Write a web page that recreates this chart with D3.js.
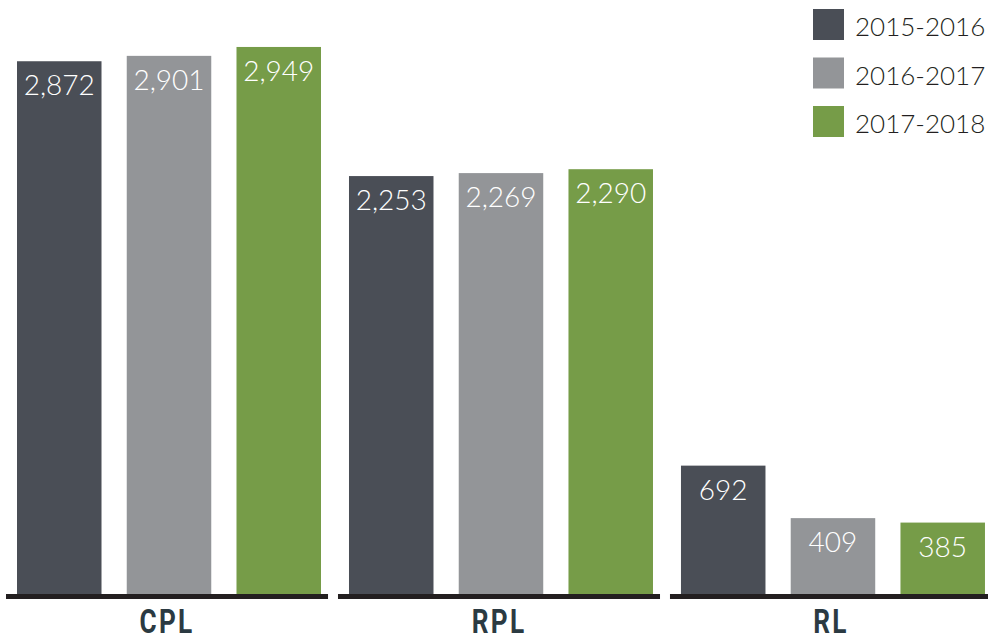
<!DOCTYPE html>
<html>
<head>
<meta charset="utf-8">
<script src="https://cdn.jsdelivr.net/npm/d3@7"></script>
<style>
  body { margin: 0; background: #fff; }
  svg { display: block; }
</style>
</head>
<body>
<div id="chart"></div>
<script>
(function () {
    var width = 988,
        height = 642;

    // data
    var groups = ["CPL", "RPL", "RL"];
    var years = ["2015-2016", "2016-2017", "2017-2018"];
    var cpl = [2872, 2901, 2949];
    var rpl = [2253, 2269, 2290];
    var rl = [692, 409, 385];
    var colors = ["#4a4e56", "#939598", "#769c48"];

    var rows = [cpl, rpl, rl];

    var svg = d3.select("#chart")
        .append("svg")
        .attr("width", width)
        .attr("height", height);

    var baseY = 594;

    var x0 = d3.scaleBand().domain(groups).range([6, 992]).paddingInner(0.03);
    var x1 = d3.scaleBand().domain(years).range([11, 315]).paddingInner(0.23);
    var y = d3.scaleLinear().domain([0, 3000]).range([baseY, baseY - 3000 * 0.1855]);

    var fmt = d3.format(",");

    var g = svg.selectAll(".group")
        .data(groups)
        .enter().append("g")
        .attr("class", "group")
        .attr("transform", function (d) { return "translate(" + x0(d) + ",0)"; });

    // baseline segment under each group
    g.append("rect")
        .attr("x", 0)
        .attr("y", baseY)
        .attr("width", x0.bandwidth())
        .attr("height", 5)
        .attr("fill", "#231f20");

    var bars = g.selectAll(".bar")
        .data(function (d, i) {
            return rows[i].map(function (v, j) { return { year: years[j], value: v, i: j }; });
        })
        .enter();

    bars.append("rect")
        .attr("class", "bar")
        .attr("x", function (d) { return x1(d.year); })
        .attr("y", function (d) { return y(d.value); })
        .attr("width", x1.bandwidth())
        .attr("height", function (d) { return baseY - y(d.value); })
        .attr("fill", function (d) { return colors[d.i]; });

    bars.append("text")
        .attr("x", function (d) { return x1(d.year) + x1.bandwidth() / 2; })
        .attr("y", function (d) { return y(d.value) + 34; })
        .attr("text-anchor", "middle")
        .attr("fill", "#fff")
        .style("font-family", "Lato, 'Open Sans', sans-serif")
        .style("font-weight", 300)
        .style("font-size", "28px")
        .text(function (d) { return fmt(d.value); });

    // category labels, squeezed to look condensed
    g.append("g")
        .attr("transform", "translate(" + (x0.bandwidth() / 2) + ",633) scale(0.77,1)")
        .append("text")
        .attr("text-anchor", "middle")
        .attr("fill", "#2b3a42")
        .style("font-family", "Roboto, sans-serif")
        .style("font-weight", "bold")
        .style("font-size", "34px")
        .style("letter-spacing", "3px")
        .text(function (d) { return d; });

    // legend
    var legend = svg.selectAll(".legend")
        .data(years)
        .enter().append("g")
        .attr("class", "legend")
        .attr("transform", function (d, i) { return "translate(813," + (9 + i * 48.5) + ")"; });

    legend.append("rect")
        .attr("width", 31)
        .attr("height", 31)
        .attr("fill", function (d, i) { return colors[i]; });

    legend.append("text")
        .attr("x", 42)
        .attr("y", 27)
        .attr("fill", "#231f20")
        .style("font-family", "Lato, 'Open Sans', sans-serif")
        .style("font-weight", 300)
        .style("font-size", "26px")
        .text(function (d) { return d; });
})();
</script>
</body>
</html>
